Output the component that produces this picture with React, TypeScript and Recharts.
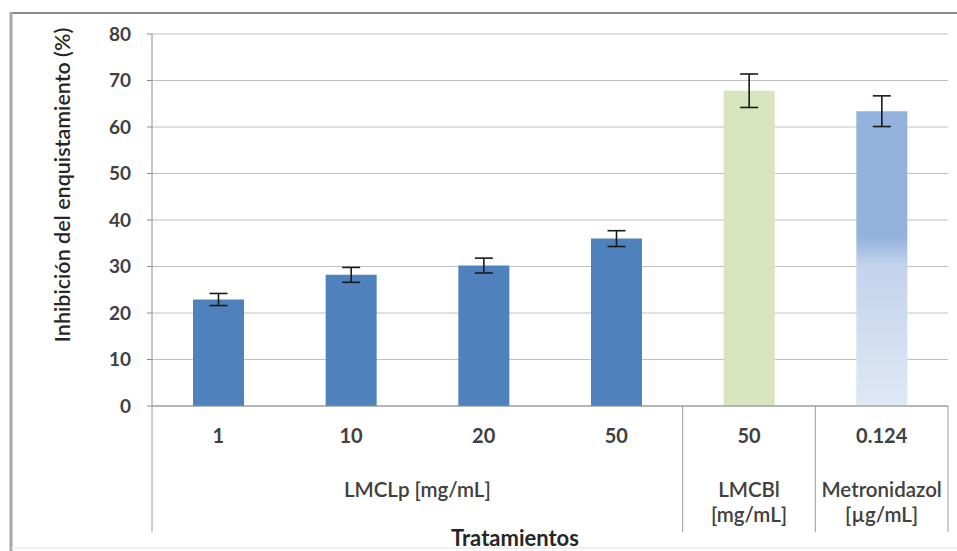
import React from 'react';
import { BarChart, Bar, XAxis, YAxis, CartesianGrid, ErrorBar, Cell } from 'recharts';

const categories = ['1', '10', '20', '50', '50', '0.124'];
const values = [22.9, 28.2, 30.2, 36.0, 67.8, 63.4];
const errors = [1.3, 1.6, 1.6, 1.7, 3.6, 3.3];
const groupLabels = [['LMCLp [mg/mL]'], ['LMCBl', '[mg/mL]'], ['Metronidazol', '[µg/mL]']];
const groupSizes = [4, 1, 1];
const yTicks = [0, 10, 20, 30, 40, 50, 60, 70, 80];
const barColors = ['#4F81BD', '#4F81BD', '#4F81BD', '#4F81BD', '#D7E4BD', 'url(#metroGrad)'];
const yTitle = 'Inhibición del enquistamiento (%)';
const xTitle = 'Tratamientos';

const data = categories.map((c, i) => ({ key: String(i), label: c, value: values[i], err: errors[i] }));

const FONT = 'Lato, "Open Sans", sans-serif';
const W = 957;
const H = 551;
const PLOT_LEFT = 152;
const PLOT_RIGHT = 948;

function XTick(props: any) {
  const { x, y, payload } = props;
  const i = payload.index ?? props.index;
  const half = payload.offset || (PLOT_RIGHT - PLOT_LEFT) / categories.length / 2;
  const els: any[] = [];
  els.push(
    <text key="t" x={x} y={y + 37} textAnchor="middle" fontFamily={FONT} fontWeight={700} fontSize={20} fill="#404040">
      {categories[i]}
    </text>
  );
  let start = 0;
  groupSizes.forEach((n, g) => {
    if (start === i) {
      const left = x - half;
      const cx = left + n * half;
      groupLabels[g].forEach((line, k) =>
        els.push(
          <text key={'g' + g + k} x={cx} y={y + 91 + k * 25} textAnchor="middle" fontFamily={FONT} fontWeight={600} fontSize={20.5} fill="#404040">
            {line}
          </text>
        )
      );
      els.push(<line key={'d' + g} x1={left} x2={left} y1={y} y2={y + 126} stroke="#9a9a9a" strokeWidth={1} />);
    }
    start += n;
  });
  if (i === categories.length - 1) {
    els.push(<line key="dr" x1={x + half} x2={x + half} y1={y} y2={y + 126} stroke="#9a9a9a" strokeWidth={1} />);
  }
  return <g>{els}</g>;
}

export default function App() {
  return (
    <div style={{ position: 'absolute', left: 0, top: 0, width: W, height: H, background: '#fff' }}>
      <svg width={W} height={H} style={{ position: 'absolute', left: 0, top: 0 }}>
        <defs>
          <linearGradient id="metroGrad" x1="0" y1="0" x2="0" y2="1">
            <stop offset="0" stopColor="#94B2DE" />
            <stop offset="0.43" stopColor="#94B2DE" />
            <stop offset="0.52" stopColor="#C3D3EC" />
            <stop offset="1" stopColor="#DFE8F5" />
          </linearGradient>
        </defs>
        <line x1={11} x2={W} y1={13} y2={13} stroke="#8c8c8c" strokeWidth={2} />
        <line x1={11} x2={11} y1={12} y2={H} stroke="#a6a6a6" strokeWidth={3} />
        <line x1={11} x2={W} y1={548} y2={548} stroke="#e0e0e0" strokeWidth={1} />
      </svg>
      <div style={{ position: 'absolute', left: 0, top: 0 }}>
        <BarChart width={W} height={H} data={data} margin={{ top: 34, right: W - PLOT_RIGHT, left: 0, bottom: 0 }}>
          <CartesianGrid vertical={false} stroke="#c0c0c0" />
          <XAxis
            dataKey="key"
            height={145}
            interval={0}
            tickLine={false}
            tickSize={0}
            tickMargin={0}
            axisLine={{ stroke: '#8c8c8c' }}
            tick={<XTick />}
          />
          <YAxis
            width={PLOT_LEFT}
            domain={[0, 80]}
            ticks={yTicks}
            interval={0}
            tickSize={5}
            tickMargin={16}
            axisLine={{ stroke: '#8c8c8c' }}
            tickLine={{ stroke: '#8c8c8c' }}
            tick={{ fontFamily: FONT, fontWeight: 700, fontSize: 19, fill: '#404040' }}
          />
          <Bar dataKey="value" barSize={51} isAnimationActive={false}>
            {data.map((d, i) => (
              <Cell key={d.key} fill={barColors[i]} />
            ))}
            <ErrorBar dataKey="err" width={9} stroke="#1a1a1a" strokeWidth={1.6} isAnimationActive={false} />
          </Bar>
        </BarChart>
      </div>
      <svg width={W} height={H} style={{ position: 'absolute', left: 0, top: 0, pointerEvents: 'none' }}>
        <text
          x={62}
          y={185}
          transform="rotate(-90, 62, 185)"
          textAnchor="middle"
          dominantBaseline="central"
          fontFamily={FONT}
          fontWeight={600}
          fontSize={21.5}
          fill="#262626"
        >
          {yTitle}
        </text>
        <text x={515} y={546} textAnchor="middle" fontFamily={FONT} fontWeight={700} fontSize={22} fill="#262626">
          {xTitle}
        </text>
      </svg>
    </div>
  );
}
